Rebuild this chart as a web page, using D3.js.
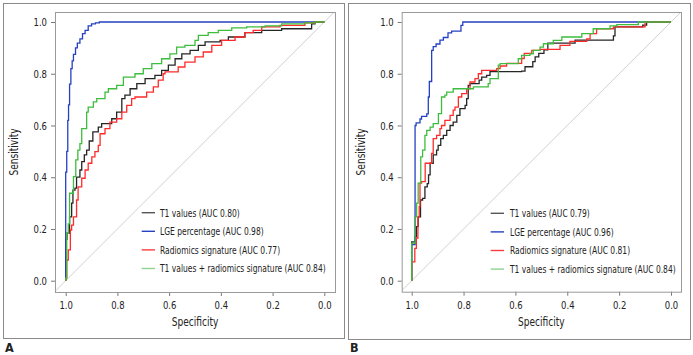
<!DOCTYPE html>
<html><head><meta charset="utf-8">
<script src="https://cdn.jsdelivr.net/npm/d3@7"></script>
<style>
body{margin:0;background:#fff;}
text{font-family:"DejaVu Sans Condensed","Liberation Sans",sans-serif;fill:#222;}
</style></head>
<body><svg id="c" width="693" height="355"></svg>
<script>
// ---------- data ----------
const xTicks = [1.0, 0.8, 0.6, 0.4, 0.2, 0.0];
const yTicks = [0.0, 0.2, 0.4, 0.6, 0.8, 1.0];
const seriesNames = ["T1 values", "LGE percentage", "Radiomics signature", "T1 values + radiomics signature"];
const aucA = ["0.80", "0.98", "0.77", "0.84"];
const aucB = ["0.79", "0.96", "0.81", "0.84"];
const panelLabels = ["A", "B"];

// Panel A curves (specificity, sensitivity vertices)
const aT1Spec = [1,1,0.995,0.985,0.977,0.972,0.964,0.958,0.945,0.938,0.928,0.919,0.909,0.895,0.874,0.861,0.822,0.803,0.783,0.771,0.751,0.725,0.693,0.655,0.629,0.603,0.577,0.551,0.519,0.487,0.461,0.403,0.371,0.307,0.242,0.165,0.049,0.036,0.023,0];
const aT1Sens = [0,0.015,0.16,0.184,0.247,0.30,0.35,0.358,0.40,0.428,0.46,0.486,0.505,0.54,0.575,0.594,0.607,0.626,0.652,0.704,0.717,0.742,0.762,0.781,0.794,0.813,0.833,0.858,0.877,0.89,0.91,0.923,0.929,0.942,0.959,0.968,0.974,0.993,1,1];
const aLgeSpec = [1,1,0.996,0.992,0.989,0.985,0.98,0.975,0.97,0.962,0.955,0.945,0.935,0.925,0.913,0.9,0.885,0.87,0.86,0];
const aLgeSens = [0,0.15,0.42,0.50,0.62,0.68,0.76,0.82,0.85,0.875,0.90,0.918,0.935,0.955,0.968,0.985,0.993,0.997,1,1];
const aRadSpec = [1,0.996,0.99,0.982,0.977,0.97,0.958,0.952,0.938,0.925,0.913,0.899,0.887,0.874,0.867,0.848,0.829,0.803,0.783,0.764,0.745,0.732,0.687,0.661,0.642,0.623,0.616,0.565,0.539,0.5,0.468,0.435,0.397,0.345,0.307,0.275,0.242,0.171,0.075,0.036,0.023,0];
const aRadSens = [0,0.01,0.08,0.119,0.196,0.215,0.247,0.312,0.363,0.396,0.428,0.454,0.479,0.499,0.523,0.568,0.588,0.613,0.626,0.652,0.678,0.704,0.71,0.729,0.749,0.775,0.80,0.807,0.826,0.845,0.865,0.884,0.91,0.929,0.942,0.959,0.968,0.981,0.987,0.997,1,1];
const aComSpec = [1,0.996,0.99,0.985,0.97,0.961,0.953,0.945,0.938,0.919,0.913,0.893,0.88,0.848,0.835,0.803,0.777,0.732,0.70,0.667,0.629,0.597,0.571,0.539,0.5,0.487,0.449,0.41,0.358,0.30,0.229,0.165,0.075,0.036,0.023,0];
const aComSens = [0,0.01,0.184,0.22,0.338,0.402,0.467,0.505,0.53,0.588,0.652,0.671,0.691,0.704,0.729,0.742,0.755,0.787,0.80,0.82,0.839,0.858,0.877,0.903,0.91,0.929,0.948,0.959,0.968,0.977,0.981,0.985,0.993,0.997,1,1];

// Panel B curves
const bT1Spec = [1,1,0.987,0.982,0.975,0.966,0.958,0.949,0.94,0.935,0.929,0.917,0.904,0.898,0.888,0.878,0.865,0.852,0.84,0.826,0.814,0.794,0.788,0.782,0.775,0.74,0.73,0.711,0.698,0.576,0.563,0.533,0.524,0.51,0.49,0.475,0.447,0.37,0.222,0.216,0.109,0.094,0.052,0];
const bT1Sens = [0,0.138,0.15,0.17,0.209,0.247,0.312,0.318,0.363,0.375,0.409,0.454,0.486,0.505,0.523,0.549,0.562,0.581,0.60,0.613,0.639,0.665,0.678,0.704,0.755,0.762,0.775,0.787,0.794,0.808,0.81,0.827,0.847,0.865,0.879,0.892,0.918,0.918,0.93,0.946,0.981,0.988,1,1];
const bLgeSpec = [1,1,0.987,0.987,0.983,0.968,0.962,0.942,0.936,0.932,0.923,0.917,0.906,0.891,0.878,0.86,0.846,0.81,0.803,0.79,0];
const bLgeSens = [0,0.13,0.14,0.5,0.6,0.61,0.625,0.635,0.645,0.71,0.77,0.89,0.905,0.915,0.93,0.94,0.958,0.965,0.987,1,1];
const bRadSpec = [1,1,0.988,0.982,0.976,0.971,0.968,0.962,0.948,0.94,0.923,0.917,0.904,0.891,0.885,0.872,0.852,0.84,0.833,0.82,0.807,0.788,0.775,0.756,0.743,0.73,0.672,0.659,0.634,0.576,0.566,0.537,0.505,0.428,0.39,0.325,0.312,0.287,0.222,0.1,0.094,0];
const bRadSens = [0,0.073,0.073,0.125,0.165,0.247,0.286,0.377,0.383,0.454,0.454,0.492,0.549,0.562,0.588,0.60,0.62,0.639,0.659,0.671,0.71,0.723,0.742,0.768,0.781,0.80,0.813,0.82,0.83,0.84,0.859,0.879,0.89,0.894,0.91,0.925,0.935,0.955,0.974,0.981,1,1];
const bComSpec = [1,1,0.987,0.981,0.975,0.965,0.958,0.949,0.942,0.929,0.917,0.897,0.885,0.872,0.865,0.84,0.775,0.762,0.705,0.698,0.666,0.659,0.589,0.576,0.544,0.531,0.505,0.492,0.454,0.421,0.344,0.30,0.235,0.209,0.126,0.12,0];
const bComSens = [0,0.11,0.145,0.247,0.30,0.377,0.479,0.505,0.562,0.581,0.594,0.607,0.646,0.71,0.717,0.729,0.742,0.742,0.749,0.762,0.781,0.833,0.839,0.858,0.871,0.877,0.89,0.903,0.916,0.929,0.942,0.955,0.974,0.985,0.99,1,1];

const colors = ["#262626", "#2541c2", "#ff2b2b", "#3dbd3d"];
const legendColors = ["#555555", "#2541c2", "#ff3b3b", "#8ed48e"];

// ---------- drawing ----------
const svg = d3.select("#c");
function zip(s, t){ return s.map((v,i)=>[v, t[i]]); }

function measure(str, size){
  const t = svg.append("text").attr("font-size", size).text(str);
  const w = t.node().getComputedTextLength(); t.remove(); return w;
}
const legSize = 10.8, tickSize = 11.2, titleSize = 11.8;
const legScale = 166 / measure("T1 values + radiomics signature (AUC 0.84)", legSize);
const tickScale = 13.5 / measure("1.0", tickSize);
const titleScale = 46.7 / measure("Specificity", titleSize);

const panels = [
  {outer:[3,3,344,338], box:[55,12,335,292], x0:65.7, x1:324.3, yl:[280.7,22], auc:aucA,
   curves:[zip(aT1Spec,aT1Sens), zip(aLgeSpec,aLgeSens), zip(aRadSpec,aRadSens), zip(aComSpec,aComSens)],
   leg:{x1:141.7, x2:155, tx:160, y:212.7}, label:[5,352]},
  {outer:[348,3,690,339], box:[401.7,12,681,291.7], x0:411.7, x1:671, yl:[280.7,22], auc:aucB,
   curves:[zip(bT1Spec,bT1Sens), zip(bLgeSpec,bLgeSens), zip(bRadSpec,bRadSens), zip(bComSpec,bComSens)],
   leg:{x1:490.7, x2:504, tx:510, y:213.3}, label:[350,352]}
];

panels.forEach((p, pi) => {
  const g = svg.append("g");
  const [ox0, oy0, ox1, oy1] = p.outer;
  g.append("rect").attr("x", ox0+0.5).attr("y", oy0+0.5).attr("width", ox1-ox0).attr("height", oy1-oy0)
    .attr("fill","none").attr("stroke","#8a8a8a").attr("stroke-width",1);
  const [bx0, by0, bx1, by1] = p.box;

  const x = d3.scaleLinear().domain([1,0]).range([p.x0, p.x1]);
  const y = d3.scaleLinear().domain([0,1]).range(p.yl);

  const cid = "clip"+pi;
  svg.append("clipPath").attr("id",cid).append("rect")
    .attr("x",bx0).attr("y",by0).attr("width",bx1-bx0).attr("height",by1-by0);

  const d0 = x.invert(bx0), d1 = x.invert(bx1);
  g.append("line").attr("clip-path",`url(#${cid})`)
    .attr("x1", bx0).attr("y1", y(1-d0)).attr("x2", bx1).attr("y2", y(1-d1))
    .attr("stroke","#d0d0d0").attr("stroke-width",1);

  const yAxis = d3.axisLeft(y).tickValues(yTicks).tickFormat(d3.format(".1f")).tickSize(4).tickPadding(3);
  const ya = g.append("g").attr("transform",`translate(${bx0},0)`).call(yAxis);
  const xAxis = d3.axisBottom(x).tickValues(xTicks).tickFormat(d3.format(".1f")).tickSize(4).tickPadding(4);
  const xa = g.append("g").attr("transform",`translate(0,${by1})`).call(xAxis);
  [ya, xa].forEach(a => {
    a.select(".domain").remove();
    a.selectAll(".tick line").attr("stroke","#777");
    a.selectAll(".tick text").attr("font-size",tickSize).attr("fill","#1a1a1a")
      .attr("font-family",'"DejaVu Sans Condensed",sans-serif');
  });
  ya.selectAll(".tick text").each(function(){
    const t = d3.select(this); const xx = +t.attr("x");
    t.attr("x", null).attr("transform", `translate(${xx-1},0) scale(${tickScale},1)`);
  });
  xa.selectAll(".tick text").each(function(){
    const t = d3.select(this); const yy = +t.attr("y");
    t.attr("y", null).attr("transform", `translate(0,${yy+1.5}) scale(${tickScale},1)`);
  });

  g.append("rect").attr("x",bx0+0.5).attr("y",by0+0.5).attr("width",bx1-bx0).attr("height",by1-by0)
    .attr("fill","none").attr("stroke","#9a9a9a").attr("stroke-width",1);

  const line = d3.line().x(d=>x(d[0])).y(d=>y(d[1])).curve(d3.curveStepBefore);
  p.curves.forEach((c, i) => {
    g.append("path").attr("clip-path",`url(#${cid})`).datum(c).attr("d", line)
      .attr("fill","none").attr("stroke", colors[i]).attr("stroke-width",1.3);
  });

  seriesNames.forEach((n, i) => {
    const yy = p.leg.y + i*18.6;
    g.append("line").attr("x1",p.leg.x1).attr("x2",p.leg.x2).attr("y1",yy).attr("y2",yy)
      .attr("stroke",legendColors[i]).attr("stroke-width",1.4);
    g.append("text").attr("transform",`translate(${p.leg.tx},${yy+3.8}) scale(${legScale},1)`)
      .attr("font-size",legSize).text(`${n} (AUC ${p.auc[i]})`);
  });

  g.append("text").attr("transform",`translate(${(p.x0+p.x1)/2},326) scale(${titleScale},1)`)
    .attr("text-anchor","middle").attr("font-size",titleSize).text("Specificity");
  g.append("text").attr("transform",`translate(${bx0-37},${(by0+by1)/2}) rotate(-90) scale(${titleScale},1)`)
    .attr("text-anchor","middle").attr("font-size",titleSize).text("Sensitivity");

  g.append("text").attr("x",p.label[0]).attr("y",p.label[1]).attr("font-size",12.5)
    .attr("font-weight","bold").attr("font-family",'"Liberation Sans","DejaVu Sans",sans-serif')
    .text(panelLabels[pi]);
});
</script></body></html>
